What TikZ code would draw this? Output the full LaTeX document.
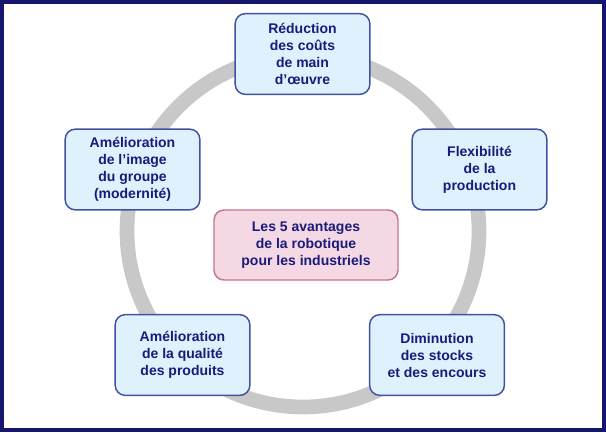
\documentclass[tikz,border=0pt]{standalone}
\usepackage{fontspec}
\setmainfont{Liberation Sans}[BoldFont={Liberation Sans Bold}]
\definecolor{framec}{HTML}{16166E}
\definecolor{ringc}{HTML}{C8C8C8}
\definecolor{boxfill}{HTML}{DFF1FC}
\definecolor{boxdraw}{HTML}{4252A2}
\definecolor{pinkfill}{HTML}{F4D9E5}
\definecolor{pinkdraw}{HTML}{C27592}
\definecolor{txtc}{HTML}{1A1A7A}
\tikzset{
  benefit/.style={draw=boxdraw, fill=boxfill, line width=1.1pt, rounded corners=7.5pt,
    minimum width=101pt, minimum height=60.5pt, align=center, text=txtc,
    font=\bfseries\fontsize{10.5}{12.75}\selectfont, inner sep=2pt},
  centre/.style={benefit, draw=pinkdraw, fill=pinkfill, minimum width=138pt, minimum height=52.5pt},
  ring/.style={draw=ringc, line width=11pt},
  frame/.style={draw=framec, line width=3.2pt}
}
\begin{document}
\begin{tikzpicture}[x=0.75pt, y=-0.75pt]
\useasboundingbox (0,0) rectangle (606,432);
\fill[white] (0,0) rectangle (606,432);
\draw[frame] (2.2,2.2) rectangle (603.8,429.8);
\coordinate (c) at (303,231);
\draw[ring] (c) circle[radius=176];
\node[benefit] (top) at (302.5,54) {Réduction\\des coûts\\de main\\d’œuvre};
\node[benefit] (right) at (479.5,169.5) {Flexibilité\\de la\\production};
\node[benefit] (bright) at (437,355) {Diminution\\des stocks\\et des encours};
\node[benefit] (bleft) at (182.5,355) {Amélioration\\de la qualité\\des produits};
\node[benefit] (left) at (132.5,169.5) {Amélioration\\de l’image\\du groupe\\(modernité)};
\node[centre] (mid) at (306,245) {Les 5 avantages\\de la robotique\\pour les industriels};
\end{tikzpicture}
\end{document}
